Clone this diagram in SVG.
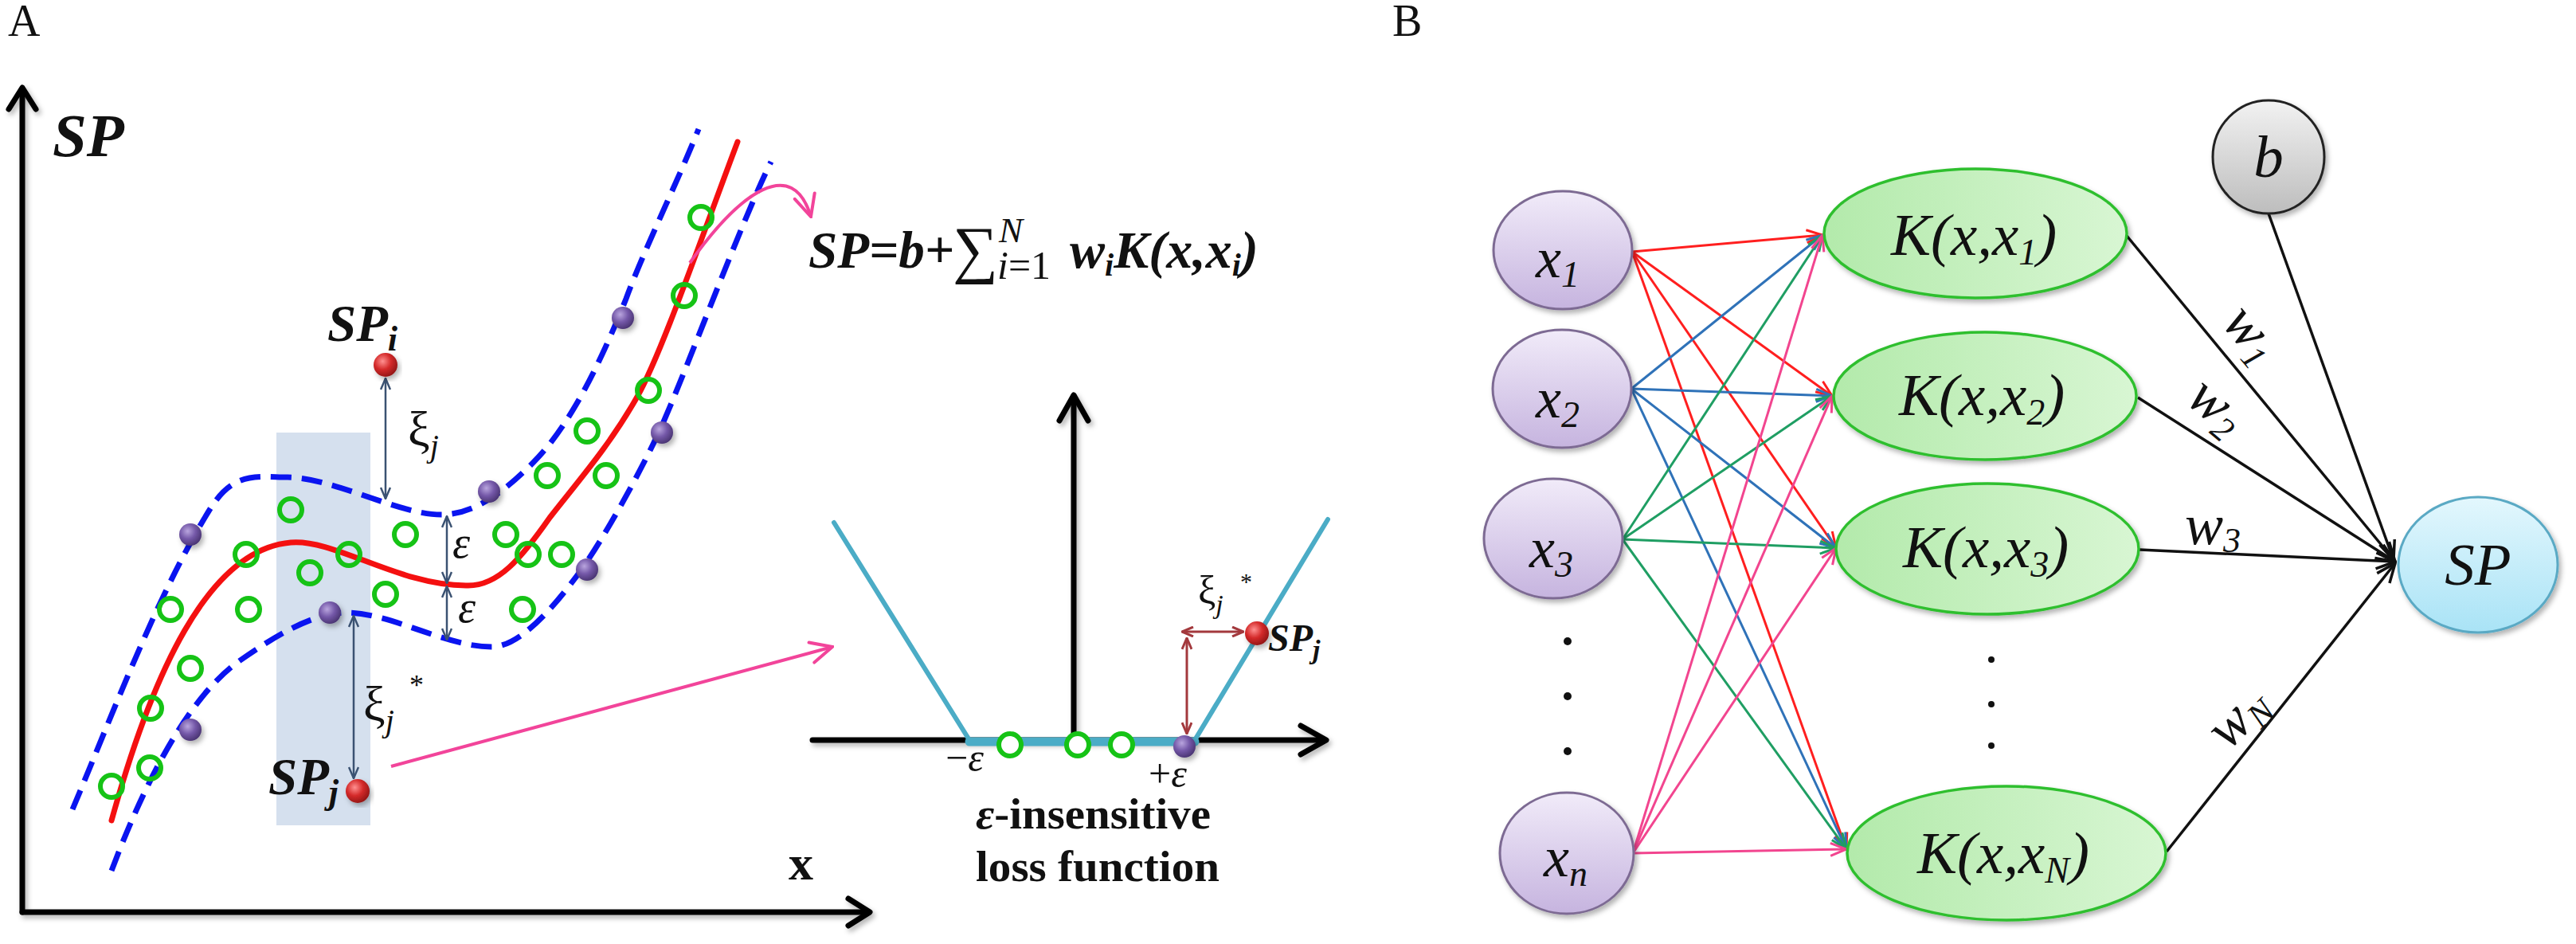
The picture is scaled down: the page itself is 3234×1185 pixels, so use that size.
<svg xmlns="http://www.w3.org/2000/svg" width="3234" height="1185" viewBox="0 0 3234 1185">
<defs>
<style>
text{font-family:"Liberation Serif","Times New Roman","DejaVu Serif",serif;fill:#111}
.bi{font-weight:bold;font-style:italic}
.it{font-style:italic}
.bd{font-weight:bold}
.axis{stroke:#000;stroke-width:7;fill:none;stroke-linecap:round;stroke-linejoin:round}
.gc{fill:none;stroke:#16c316;stroke-width:6}
.gcw{fill:#fff;stroke:#16c316;stroke-width:6}
.pd{fill:url(#gPur)}
.rb{fill:url(#gRed)}
.dash{fill:none;stroke:#0a14f0;stroke-width:7;stroke-dasharray:26 13}
.slate{stroke:#3b5272;stroke-width:2.5;fill:none;marker-start:url(#arS);marker-end:url(#arS)}
.brown{stroke:#a3393d;stroke-width:3;fill:none;marker-start:url(#arBr);marker-end:url(#arBr)}
.pink{stroke:#f2449a;stroke-width:4;fill:none;marker-end:url(#arPk)}
.eR{stroke:#ff1f1f;stroke-width:3;marker-end:url(#arR)}
.eB{stroke:#2f72b8;stroke-width:3;marker-end:url(#arB)}
.eG{stroke:#1f9e63;stroke-width:3;marker-end:url(#arG)}
.eP{stroke:#f2458f;stroke-width:3;marker-end:url(#arP)}
.eK{stroke:#111;stroke-width:3.5;marker-end:url(#arK)}
.nx{fill:url(#gX);stroke:#7d6b93;stroke-width:3}
.nk{fill:url(#gK);stroke:#2fbf2f;stroke-width:3.5}
.teal{stroke:#4bacc6;fill:none;stroke-linecap:round}
</style>
<filter id="sh" x="-20%" y="-20%" width="140%" height="140%"><feDropShadow dx="3" dy="4" stdDeviation="3" flood-color="#000" flood-opacity="0.3"/></filter>
<radialGradient id="gPur" cx="0.38" cy="0.35" r="0.7"><stop offset="0" stop-color="#b9a5de"/><stop offset="0.5" stop-color="#7458a8"/><stop offset="1" stop-color="#47326f"/></radialGradient>
<radialGradient id="gRed" cx="0.38" cy="0.35" r="0.7"><stop offset="0" stop-color="#ff9090"/><stop offset="0.5" stop-color="#d42a2a"/><stop offset="1" stop-color="#8e1414"/></radialGradient>
<linearGradient id="gX" x1="0" y1="0" x2="0" y2="1"><stop offset="0" stop-color="#f1ebf9"/><stop offset="1" stop-color="#c6b4df"/></linearGradient>
<linearGradient id="gK" x1="0" y1="0" x2="1" y2="0"><stop offset="0" stop-color="#b3eaab"/><stop offset="1" stop-color="#d8f6d3"/></linearGradient>
<linearGradient id="gB" x1="0" y1="0" x2="0" y2="1"><stop offset="0" stop-color="#f2f2f2"/><stop offset="1" stop-color="#bdbdbd"/></linearGradient>
<linearGradient id="gS" x1="0" y1="0" x2="0" y2="1"><stop offset="0" stop-color="#e3f7fd"/><stop offset="1" stop-color="#a9e3f6"/></linearGradient>
<marker id="arR" viewBox="0 0 24 20" refX="22" refY="10" markerWidth="24" markerHeight="20" markerUnits="userSpaceOnUse" orient="auto"><path d="M2,2 L22,10 L2,18" fill="none" stroke="#ff1f1f" stroke-width="3"/></marker>
<marker id="arB" viewBox="0 0 24 20" refX="22" refY="10" markerWidth="24" markerHeight="20" markerUnits="userSpaceOnUse" orient="auto"><path d="M2,2 L22,10 L2,18" fill="none" stroke="#2f72b8" stroke-width="3"/></marker>
<marker id="arG" viewBox="0 0 24 20" refX="22" refY="10" markerWidth="24" markerHeight="20" markerUnits="userSpaceOnUse" orient="auto"><path d="M2,2 L22,10 L2,18" fill="none" stroke="#1f9e63" stroke-width="3"/></marker>
<marker id="arP" viewBox="0 0 24 20" refX="22" refY="10" markerWidth="24" markerHeight="20" markerUnits="userSpaceOnUse" orient="auto"><path d="M2,2 L22,10 L2,18" fill="none" stroke="#f2458f" stroke-width="3"/></marker>
<marker id="arK" viewBox="0 0 28 24" refX="26" refY="12" markerWidth="28" markerHeight="24" markerUnits="userSpaceOnUse" orient="auto"><path d="M2,2 L26,12 L2,22" fill="none" stroke="#111" stroke-width="3.5"/></marker>
<marker id="arS" viewBox="0 0 16 14" refX="15" refY="7" markerWidth="16" markerHeight="14" markerUnits="userSpaceOnUse" orient="auto-start-reverse"><path d="M1,1 L15,7 L1,13" fill="none" stroke="#3b5272" stroke-width="2.5"/></marker>
<marker id="arBr" viewBox="0 0 16 14" refX="15" refY="7" markerWidth="16" markerHeight="14" markerUnits="userSpaceOnUse" orient="auto-start-reverse"><path d="M1,1 L15,7 L1,13" fill="none" stroke="#a3393d" stroke-width="3"/></marker>
<marker id="arPk" viewBox="0 0 32 32" refX="30" refY="16" markerWidth="32" markerHeight="32" markerUnits="userSpaceOnUse" orient="auto"><path d="M3,3 L30,16 L3,29" fill="none" stroke="#f2449a" stroke-width="4" stroke-linecap="round"/></marker>
</defs>
<rect width="3234" height="1185" fill="#fff"/>

<!-- Panel labels -->
<text x="10" y="45" font-size="56">A</text>
<text x="1748" y="45" font-size="56">B</text>

<!-- ============ PANEL A ============ -->
<g id="panelA">
  <rect id="band" x="347" y="543" width="118" height="493" fill="#d5e0ee"/>
  <g id="axesA" filter="url(#sh)">
    <path class="axis" d="M28,1145 L28,112"/>
    <path class="axis" d="M11,137 L28,110 L45,137"/>
    <path class="axis" d="M28,1145 L1090,1145"/>
    <path class="axis" d="M1065,1128 L1092,1145 L1065,1162"/>
  </g>
  <text class="bi" x="66" y="196" font-size="77">SP</text>
  <text class="bd" x="990" y="1104" font-size="62">x</text>

  <g id="tube">
    <path class="dash" d="M91,1016 C140,900 200,740 265,637 C295,590 325,599 361,599 C420,600 500,646 554,646 C600,646 640,610 670,580 C720,530 760,440 786,375 C810,310 850,230 877,162"/>
    <path class="dash" d="M140,1093 C175,1000 230,880 300,830 C350,795 395,769 435,769 C490,769 560,812 617,812 C650,812 690,770 730,715 C760,672 800,600 828,541 C860,470 930,280 968,203"/>
    <path fill="none" stroke="#f41010" stroke-width="7" stroke-linecap="round" d="M140,1030 C190,850 260,690 365,681 C420,676 500,735 585,735 C625,737 655,700 690,650 C725,605 765,560 800,498 C830,445 880,300 926,178"/>
  </g>

  <g id="greenA">
    <circle class="gc" cx="880" cy="273" r="14"/>
    <circle class="gc" cx="859" cy="371" r="14"/>
    <circle class="gc" cx="814" cy="490" r="14"/>
    <circle class="gc" cx="737" cy="541" r="14"/>
    <circle class="gc" cx="687" cy="597" r="14"/>
    <circle class="gc" cx="761" cy="597" r="14"/>
    <circle class="gc" cx="365" cy="640" r="14"/>
    <circle class="gc" cx="509" cy="671" r="14"/>
    <circle class="gc" cx="635" cy="671" r="14"/>
    <circle class="gc" cx="309" cy="696" r="14"/>
    <circle class="gc" cx="438" cy="696" r="14"/>
    <circle class="gc" cx="663" cy="696" r="14"/>
    <circle class="gc" cx="705" cy="696" r="14"/>
    <circle class="gc" cx="389" cy="719" r="14"/>
    <circle class="gc" cx="484" cy="746" r="14"/>
    <circle class="gc" cx="214" cy="765" r="14"/>
    <circle class="gc" cx="312" cy="765" r="14"/>
    <circle class="gc" cx="656" cy="765" r="14"/>
    <circle class="gc" cx="239" cy="839" r="14"/>
    <circle class="gc" cx="189" cy="889" r="14"/>
    <circle class="gc" cx="188" cy="964" r="14"/>
    <circle class="gc" cx="140" cy="987" r="14"/>
  </g>

  <g id="purpleA" filter="url(#sh)">
    <circle class="pd" cx="782" cy="399" r="14"/>
    <circle class="pd" cx="831" cy="543" r="14"/>
    <circle class="pd" cx="614" cy="617" r="14"/>
    <circle class="pd" cx="239" cy="671" r="14"/>
    <circle class="pd" cx="737" cy="715" r="14"/>
    <circle class="pd" cx="414" cy="769" r="14"/>
    <circle class="pd" cx="239" cy="916" r="14"/>
  </g>

  <g id="slackArrows">
    <line class="slate" x1="484" y1="475" x2="484" y2="626"/>
    <line class="slate" x1="561" y1="648" x2="561" y2="732"/>
    <line class="slate" x1="561" y1="736" x2="561" y2="803"/>
    <line class="slate" x1="444" y1="773" x2="444" y2="977"/>
  </g>

  <g id="SPi" filter="url(#sh)"><circle class="rb" cx="484" cy="458" r="15"/></g>
  <text class="bi" x="411" y="428" font-size="65">SP<tspan font-size="44" dy="12">i</tspan></text>
  <g id="SPj" filter="url(#sh)"><circle class="rb" cx="449" cy="993" r="15"/></g>
  <text class="bi" x="337" y="997" font-size="65">SP<tspan font-size="44" dy="12">j</tspan></text>

  <text x="512" y="559" font-size="62">ξ<tspan class="it" font-size="40" dy="14">j</tspan></text>
  <text class="it" x="568" y="700" font-size="56">ε</text>
  <text class="it" x="575" y="781" font-size="56">ε</text>
  <text x="456" y="904" font-size="62">ξ<tspan class="it" font-size="40" dy="14">j</tspan></text>
  <text x="514" y="872" font-size="36">*</text>

  <g id="pinkArrows">
    <path class="pink" d="M866,330 C930,240 995,195 1018,272"/>
    <line class="pink" x1="491" y1="962" x2="1045" y2="812"/>
  </g>

  <!-- formula -->
  <text class="bi" x="1015" y="336" font-size="66" textLength="183" lengthAdjust="spacingAndGlyphs">SP=b+</text>
  <text x="1196" y="340" font-size="80">∑</text>
  <text class="it" x="1254" y="304" font-size="45">N</text>
  <text x="1252" y="350" font-size="50"><tspan class="it">i</tspan>=1</text>
  <text class="bi" x="1343" y="336" font-size="66">w<tspan font-size="40" dy="10">i</tspan><tspan dy="-10">K(x,x</tspan><tspan font-size="40" dy="10">i</tspan><tspan dy="-10">)</tspan></text>

  <!-- loss function -->
  <g id="lossPlot">
    <g filter="url(#sh)">
      <path class="axis" d="M1348,929 L1348,497"/>
      <path class="axis" d="M1330,528 L1348,496 L1366,528"/>
      <path class="axis" d="M1020,929 L1662,929"/>
      <path class="axis" d="M1633,911 L1665,929 L1633,947"/>
    </g>
    <path class="teal" stroke-width="6" d="M1047,656 L1217,929"/>
    <path class="teal" stroke-width="6" d="M1500,929 L1667,652"/>
    <path class="teal" stroke-width="11" stroke-linecap="butt" d="M1217,931 L1500,931"/>
    <circle class="gcw" cx="1268" cy="935" r="14"/>
    <circle class="gcw" cx="1353" cy="935" r="14"/>
    <circle class="gcw" cx="1408" cy="935" r="14"/>
    <line class="brown" x1="1490" y1="801" x2="1490" y2="921"/>
    <line class="brown" x1="1484" y1="793" x2="1561" y2="793"/>
    <g filter="url(#sh)">
      <circle class="pd" cx="1487" cy="937" r="14"/>
      <circle class="rb" cx="1578" cy="795" r="15"/>
    </g>
    <text class="bi" x="1592" y="817" font-size="48">SP<tspan font-size="34" dy="10">j</tspan></text>
    <text x="1504" y="758" font-size="50">ξ<tspan class="it" font-size="34" dy="12">j</tspan></text>
    <text x="1557" y="740" font-size="30">*</text>
    <text x="1187" y="968" font-size="50">−<tspan class="it">ε</tspan></text>
    <text x="1442" y="988" font-size="50">+<tspan class="it">ε</tspan></text>
    <text class="bd" x="1225" y="1040" font-size="55" textLength="295" lengthAdjust="spacingAndGlyphs"><tspan class="it">ε</tspan>-insensitive</text>
    <text class="bd" x="1225" y="1106" font-size="55" textLength="306" lengthAdjust="spacingAndGlyphs">loss function</text>
  </g>
</g>

<!-- ============ PANEL B ============ -->
<g id="connectors">
  <line class="eR" x1="2049" y1="316" x2="2288" y2="295"/>
  <line class="eR" x1="2049" y1="316" x2="2300" y2="497"/>
  <line class="eR" x1="2049" y1="316" x2="2305" y2="688"/>
  <line class="eR" x1="2049" y1="316" x2="2318" y2="1066"/>
  <line class="eB" x1="2048" y1="488" x2="2288" y2="295"/>
  <line class="eB" x1="2048" y1="488" x2="2300" y2="497"/>
  <line class="eB" x1="2048" y1="488" x2="2305" y2="688"/>
  <line class="eB" x1="2048" y1="488" x2="2318" y2="1066"/>
  <line class="eG" x1="2037" y1="677" x2="2288" y2="295"/>
  <line class="eG" x1="2037" y1="677" x2="2300" y2="497"/>
  <line class="eG" x1="2037" y1="677" x2="2305" y2="688"/>
  <line class="eG" x1="2037" y1="677" x2="2318" y2="1066"/>
  <line class="eP" x1="2050" y1="1071" x2="2288" y2="295"/>
  <line class="eP" x1="2050" y1="1071" x2="2300" y2="497"/>
  <line class="eP" x1="2050" y1="1071" x2="2305" y2="688"/>
  <line class="eP" x1="2050" y1="1071" x2="2318" y2="1066"/>
  <line class="eK" x1="2670" y1="296" x2="3007" y2="705"/>
  <line class="eK" x1="2684" y1="499" x2="3007" y2="705"/>
  <line class="eK" x1="2686" y1="690" x2="3007" y2="705"/>
  <line class="eK" x1="2720" y1="1069" x2="3007" y2="707"/>
  <line class="eK" x1="2848" y1="268" x2="3005" y2="703"/>
  <text class="it" font-size="72" transform="translate(2821,424) rotate(50)" text-anchor="middle" y="14">w<tspan font-size="44" dy="10">1</tspan></text>
  <text class="it" font-size="72" transform="translate(2778,516) rotate(40)" text-anchor="middle" y="14">w<tspan font-size="44" dy="10">2</tspan></text>
  <text class="it" font-size="72" x="2743" y="683">w<tspan font-size="44" dy="10">3</tspan></text>
  <text class="it" font-size="72" transform="translate(2815,906) rotate(-45)" text-anchor="middle" y="14">w<tspan font-size="44" dy="10">N</tspan></text>
</g>

<g id="node-x1" filter="url(#sh)"><ellipse class="nx" cx="1962" cy="314" rx="87" ry="74"/></g>
<text class="it" x="1928" y="348" font-size="72">x<tspan font-size="46" dy="12">1</tspan></text>
<g id="node-x2" filter="url(#sh)"><ellipse class="nx" cx="1961" cy="488" rx="87" ry="74"/></g>
<text class="it" x="1928" y="524" font-size="72">x<tspan font-size="46" dy="12">2</tspan></text>
<g id="node-x3" filter="url(#sh)"><ellipse class="nx" cx="1950" cy="676" rx="87" ry="75"/></g>
<text class="it" x="1920" y="712" font-size="72">x<tspan font-size="46" dy="12">3</tspan></text>
<g id="node-xn" filter="url(#sh)"><ellipse class="nx" cx="1967" cy="1071" rx="84" ry="76"/></g>
<text class="it" x="1938" y="1100" font-size="72">x<tspan font-size="46" dy="12">n</tspan></text>

<g id="dots">
  <circle cx="1968" cy="805" r="5" fill="#111"/>
  <circle cx="1968" cy="874" r="5" fill="#111"/>
  <circle cx="1968" cy="943" r="5" fill="#111"/>
  <circle cx="2500" cy="828" r="4" fill="#111"/>
  <circle cx="2500" cy="884" r="4" fill="#111"/>
  <circle cx="2500" cy="936" r="4" fill="#111"/>
</g>

<g id="node-K1" filter="url(#sh)"><ellipse class="nk" cx="2480" cy="293" rx="190" ry="81"/></g>
<text class="it" x="2374" y="320" font-size="75">K(x,x<tspan font-size="46" dy="12">1</tspan><tspan dy="-12">)</tspan></text>
<g id="node-K2" filter="url(#sh)"><ellipse class="nk" cx="2492" cy="497" rx="190" ry="80"/></g>
<text class="it" x="2384" y="521" font-size="75">K(x,x<tspan font-size="46" dy="12">2</tspan><tspan dy="-12">)</tspan></text>
<g id="node-K3" filter="url(#sh)"><ellipse class="nk" cx="2495" cy="689" rx="190" ry="82"/></g>
<text class="it" x="2389" y="712" font-size="75">K(x,x<tspan font-size="46" dy="12">3</tspan><tspan dy="-12">)</tspan></text>
<g id="node-KN" filter="url(#sh)"><ellipse class="nk" cx="2519" cy="1071" rx="200" ry="84"/></g>
<text class="it" x="2407" y="1096" font-size="75">K(x,x<tspan font-size="46" dy="12">N</tspan><tspan dy="-12">)</tspan></text>

<g id="node-b" filter="url(#sh)"><ellipse cx="2848" cy="197" rx="70" ry="71" fill="url(#gB)" stroke="#222" stroke-width="3"/></g>
<text class="it" x="2848" y="222" font-size="75" text-anchor="middle">b</text>
<g id="node-SP" filter="url(#sh)"><ellipse cx="3111" cy="709" rx="100" ry="85" fill="url(#gS)" stroke="#5aa9c4" stroke-width="3"/></g>
<text class="it" x="3111" y="734" font-size="75" text-anchor="middle">SP</text>
</svg>
